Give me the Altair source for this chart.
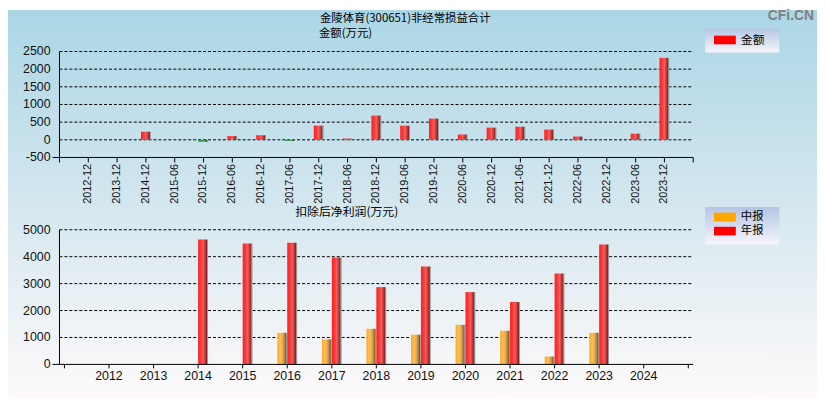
import altair as alt
import pandas as pd

# ---------------- data ----------------
periods = ["2012-12", "2013-12", "2014-12", "2015-06", "2015-12", "2016-06", "2016-12",
           "2017-06", "2017-12", "2018-06", "2018-12", "2019-06", "2019-12", "2020-06",
           "2020-12", "2021-06", "2021-12", "2022-06", "2022-12", "2023-06", "2023-12"]
amounts = [0, 0, 230, 0, -60, 105, 130, -35, 400, 35, 686, 400, 600, 150,
           345, 370, 290, 92, 0, 175, 2320]

years = [2012, 2013, 2014, 2015, 2016, 2017, 2018, 2019, 2020, 2021, 2022, 2023, 2024]
interim = [None, None, None, None, 1176, 931, 1324, 1103, 1470, 1250, 294, 1176, None]
annual = [None, None, 4640, 4485, 4520, 3970, 2870, 3640, 2685, 2315, 3380, 4450, None]

top_ticks = [-500, 0, 500, 1000, 1500, 2000, 2500]
bottom_ticks = [0, 1000, 2000, 3000, 4000, 5000]
year_domain = [2011, 2025]

title_lines = ["金陵体育(300651)非经常损益合计", "金额(万元)"]
bottom_title = ["扣除后净利润(万元)"]
top_legend = ["金额"]
bottom_legend = ["中报", "年报"]
watermark = ["CFi.CN"]

# ---------------- layout ----------------
W, H = 817, 392
X0, X1 = 52, 692
TOP_Y = [149, 42]
BOT_Y = [358, 222]
LABEL_FONT = "Liberation Sans"
CJK_FONT = "Noto Sans CJK SC"
AXIS_COLOR = "black"
LABEL_COLOR = "#111111"


def grad(stops, vertical=False):
    return {
        "gradient": "linear",
        "x1": 0, "y1": 0,
        "x2": 0 if vertical else 1, "y2": 1 if vertical else 0,
        "stops": [{"offset": o, "color": c} for o, c in stops],
    }


RED = grad([(0, "#ff2020"), (0.3, "#ff3a3a"), (0.5, "#f06060"), (0.72, "#bf3535"),
            (0.86, "#862424"), (0.88, "#888888"), (1, "#a5a5a5")])
ORANGE = grad([(0, "#ffa820"), (0.3, "#ffbf50"), (0.5, "#e8b060"), (0.72, "#b88a3c"),
               (0.86, "#7e6028"), (0.88, "#8a8a8a"), (1, "#a8a8a8")])
GREEN = grad([(0, "#1a9a2a"), (0.35, "#40b050"), (0.6, "#5a9a60"), (0.86, "#2a5a2a"),
              (0.88, "#8a8a8a"), (1, "#a8a8a8")])
BG = grad([(0, "#abd6e6"), (0.5, "#d4e7ef"), (1, "#fefafa")], vertical=True)
LEGEND_BG = grad([(0, "#b3c5e5"), (1, "#f7f5fa")], vertical=True)

one = pd.DataFrame({"a": [0]})

background = alt.Chart(one).mark_rect(fill=BG).encode(
    x=alt.value(0), x2=alt.value(W), y=alt.value(0), y2=alt.value(H)
)

# ---------------- top panel ----------------
top_df = pd.DataFrame({"period": periods, "amount": amounts})
top_tick_df = pd.DataFrame({"v": top_ticks, "label": [str(t) for t in top_ticks]})
top_x_scale = alt.Scale(type="band", domain=periods, range=[X0, X1], paddingInner=0, paddingOuter=0.5)
top_y_scale = alt.Scale(domain=[top_ticks[0], top_ticks[-1]], range=TOP_Y, nice=False, zero=False)

top_grid = alt.Chart(top_tick_df).transform_filter(f"datum.v > {top_ticks[0]}").mark_rule(
    color=AXIS_COLOR, strokeDash=[3, 2], strokeWidth=1
).encode(
    y=alt.Y("v:Q", scale=top_y_scale, axis=None),
    x=alt.value(X0), x2=alt.value(X1),
)

top_pos = alt.Chart(top_df).transform_filter("datum.amount >= 0").mark_bar(
    size=10, fill=RED, strokeWidth=0
).encode(
    x=alt.X("period:N", sort=periods, scale=top_x_scale, axis=None),
    y=alt.Y("amount:Q", scale=top_y_scale, axis=None),
)

top_neg = alt.Chart(top_df).transform_filter("datum.amount < 0").mark_bar(
    size=10, fill=GREEN, strokeWidth=0
).encode(
    x=alt.X("period:N", sort=periods, scale=top_x_scale, axis=None),
    y=alt.Y("amount:Q", scale=top_y_scale, axis=None),
)

top_xdomain = alt.Chart(top_tick_df).transform_filter(f"datum.v == {top_ticks[0]}").mark_rule(
    color=AXIS_COLOR, strokeWidth=1
).encode(y=alt.Y("v:Q", scale=top_y_scale, axis=None), x=alt.value(X0 - 7), x2=alt.value(X1))

top_ydomain = alt.Chart(one).mark_rule(color=AXIS_COLOR, strokeWidth=1).encode(
    x=alt.value(X0), y=alt.value(TOP_Y[1]), y2=alt.value(TOP_Y[0] + 5)
)
top_end_tick = alt.Chart(one).mark_rule(color=AXIS_COLOR, strokeWidth=1).encode(
    x=alt.value(X1), y=alt.value(TOP_Y[0]), y2=alt.value(TOP_Y[0] + 5)
)

top_xticks = alt.Chart(top_df).mark_rule(color=AXIS_COLOR, strokeWidth=1).encode(
    x=alt.X("period:N", sort=periods, scale=top_x_scale, axis=None),
    y=alt.value(TOP_Y[0]), y2=alt.value(TOP_Y[0] + 5),
)

top_xlabels = alt.Chart(top_df).mark_text(
    angle=270, align="right", baseline="middle", fontSize=11, font=LABEL_FONT, color=LABEL_COLOR
).encode(
    x=alt.X("period:N", sort=periods, scale=top_x_scale, axis=None),
    y=alt.value(TOP_Y[0] + 6.5),
    text="period:N",
)

top_ylabels = alt.Chart(top_tick_df).mark_text(
    align="right", baseline="middle", fontSize=12.5, font=LABEL_FONT, color=LABEL_COLOR
).encode(
    y=alt.Y("v:Q", scale=top_y_scale, axis=None),
    x=alt.value(X0 - 9),
    text="label:N",
)

top_panel = alt.layer(top_grid, top_pos, top_neg, top_xdomain, top_ydomain, top_end_tick,
                      top_xticks, top_xlabels, top_ylabels)

# ---------------- bottom panel ----------------
bot_df = pd.DataFrame({"year": years, "interim": interim, "annual": annual,
                       "label": [str(y) for y in years]})
bot_tick_df = pd.DataFrame({"v": bottom_ticks, "label": [str(t) for t in bottom_ticks]})
edge_df = pd.DataFrame({"year": year_domain})
bot_x_scale = alt.Scale(domain=year_domain, range=[X0, X1], nice=False, zero=False)
bot_y_scale = alt.Scale(domain=[bottom_ticks[0], bottom_ticks[-1]], range=BOT_Y, nice=False)

bot_grid = alt.Chart(bot_tick_df).transform_filter(f"datum.v > {bottom_ticks[0]}").mark_rule(
    color=AXIS_COLOR, strokeDash=[3, 2], strokeWidth=1
).encode(
    y=alt.Y("v:Q", scale=bot_y_scale, axis=None),
    x=alt.value(X0), x2=alt.value(X1),
)

bot_interim = alt.Chart(bot_df).transform_filter("isValid(datum.interim)").mark_bar(
    size=10, xOffset=-5, fill=ORANGE, strokeWidth=0
).encode(
    x=alt.X("year:Q", scale=bot_x_scale, axis=None),
    y=alt.Y("interim:Q", scale=bot_y_scale, axis=None),
)

bot_annual = alt.Chart(bot_df).transform_filter("isValid(datum.annual)").mark_bar(
    size=10, xOffset=5, fill=RED, strokeWidth=0
).encode(
    x=alt.X("year:Q", scale=bot_x_scale, axis=None),
    y=alt.Y("annual:Q", scale=bot_y_scale, axis=None),
)

bot_xdomain = alt.Chart(bot_tick_df).transform_filter(f"datum.v == {bottom_ticks[0]}").mark_rule(
    color=AXIS_COLOR, strokeWidth=1
).encode(y=alt.Y("v:Q", scale=bot_y_scale, axis=None), x=alt.value(X0 - 7), x2=alt.value(X1))

bot_ydomain = alt.Chart(one).mark_rule(color=AXIS_COLOR, strokeWidth=1).encode(
    x=alt.value(X0), y=alt.value(BOT_Y[1]), y2=alt.value(BOT_Y[0])
)

bot_xticks = alt.layer(
    alt.Chart(bot_df).mark_rule(color=AXIS_COLOR, strokeWidth=1).encode(
        x=alt.X("year:Q", scale=bot_x_scale, axis=None),
        y=alt.value(BOT_Y[0]), y2=alt.value(BOT_Y[0] + 4),
    ),
    alt.Chart(edge_df).mark_rule(color=AXIS_COLOR, strokeWidth=1).encode(
        x=alt.X("year:Q", scale=bot_x_scale, axis=None),
        y=alt.value(BOT_Y[0]), y2=alt.value(BOT_Y[0] + 4),
    ),
)

bot_xlabels = alt.Chart(bot_df).mark_text(
    align="center", baseline="middle", fontSize=12.5, font=LABEL_FONT, color=LABEL_COLOR
).encode(
    x=alt.X("year:Q", scale=bot_x_scale, axis=None),
    y=alt.value(BOT_Y[0] + 12),
    text="label:N",
)

bot_ylabels = alt.Chart(bot_tick_df).mark_text(
    align="right", baseline="middle", fontSize=12.5, font=LABEL_FONT, color=LABEL_COLOR
).encode(
    y=alt.Y("v:Q", scale=bot_y_scale, axis=None),
    x=alt.value(X0 - 9),
    text="label:N",
)

bottom_panel = alt.layer(bot_grid, bot_interim, bot_annual, bot_xdomain, bot_ydomain,
                         bot_xticks, bot_xlabels, bot_ylabels)


# ---------------- texts ----------------
def text_layer(txt, x, y, size=12, font=CJK_FONT, align="left", baseline="middle",
               color="black", weight="normal"):
    return alt.Chart(pd.DataFrame({"t": [txt]})).mark_text(
        align=align, baseline=baseline, fontSize=size, font=font, color=color,
        fontWeight=weight
    ).encode(x=alt.value(x), y=alt.value(y), text="t:N")


titles = [
    text_layer(title_lines[0], 315, 9.5, size=11.5),
    text_layer(title_lines[1], 314, 24.5, size=11.5),
    text_layer(bottom_title[0], 290, 204.5),
    text_layer(watermark[0], 814, 10, size=14, font=LABEL_FONT, align="right",
               baseline="alphabetic", color="#808080", weight="bold"),
]


# ---------------- legends ----------------
def legend_box(y0, y1):
    return alt.Chart(one).mark_rect(fill=LEGEND_BG).encode(
        x=alt.value(704), x2=alt.value(779), y=alt.value(y0), y2=alt.value(y1)
    )


def legend_swatch(color, y0, y1):
    return alt.Chart(one).mark_rect(fill=color).encode(
        x=alt.value(713), x2=alt.value(735), y=alt.value(y0), y2=alt.value(y1)
    )


legends = [
    legend_box(18.7, 43),
    legend_swatch("#ff0000", 26, 34.7),
    text_layer(top_legend[0], 740, 30.5, size=12),
    legend_box(199, 237),
    legend_swatch("#ffa500", 204.7, 213.7),
    text_layer(bottom_legend[0], 740, 209.2, size=11.5),
    legend_swatch("#ff0000", 219, 227.7),
    text_layer(bottom_legend[1], 740, 223.8, size=11.5),
]

chart = alt.layer(
    background, top_panel, bottom_panel, *titles, *legends
).resolve_scale(
    x="independent", y="independent"
).properties(
    width=W, height=H, autosize=alt.AutoSizeParams(type="none"), padding=0
).configure_view(strokeWidth=0)

chart.save("out.html", embed_options={"renderer": "svg", "actions": False})
